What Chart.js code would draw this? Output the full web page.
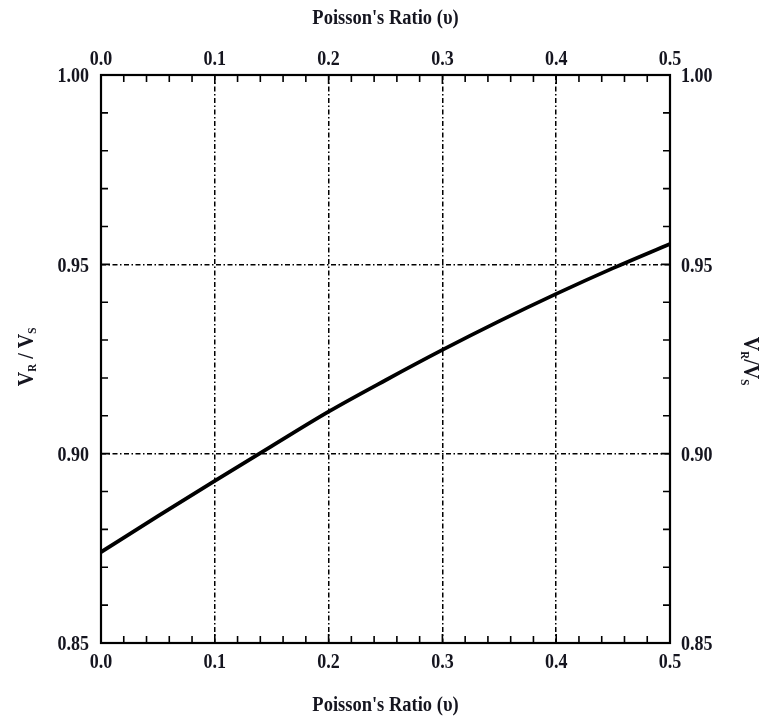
<!DOCTYPE html>
<html>
<head>
<meta charset="utf-8">
<title>Rayleigh / shear wave velocity ratio vs Poisson's ratio</title>
<script src="https://cdn.jsdelivr.net/npm/chart.js@4.4.1/dist/chart.umd.min.js"></script>
<style>
  html, body { margin: 0; padding: 0; background: #ffffff; }
  #wrap { position: relative; width: 764px; height: 719px; }
</style>
</head>
<body>
<div id="wrap"><canvas id="chart" width="764" height="719"></canvas></div>
<script>
// Poisson's ratio (x) and the Rayleigh-to-shear velocity ratio VR/VS (y)
const poissonRatio  = [0.00, 0.05, 0.10, 0.15, 0.20, 0.25, 0.30, 0.35, 0.40, 0.45, 0.50];
const velocityRatio = [0.8740, 0.8835, 0.8928, 0.9020, 0.9111, 0.9194, 0.9274, 0.9350, 0.9422, 0.9490, 0.9554];

// Axis ticks
const xMajorTicks = [0.0, 0.1, 0.2, 0.3, 0.4, 0.5];
const xTickLabels = ['0.0', '0.1', '0.2', '0.3', '0.4', '0.5'];
const yMajorTicks = [0.85, 0.90, 0.95, 1.00];
const yTickLabels = ['0.85', '0.90', '0.95', '1.00'];
const xMinorTicks = [0.02, 0.04, 0.06, 0.08, 0.12, 0.14, 0.16, 0.18, 0.22, 0.24, 0.26, 0.28,
                     0.32, 0.34, 0.36, 0.38, 0.42, 0.44, 0.46, 0.48];
const yMinorTicks = [0.86, 0.87, 0.88, 0.89, 0.91, 0.92, 0.93, 0.94, 0.96, 0.97, 0.98, 0.99];

const xTitle = "Poisson's Ratio (\u03C5)";

const INK = '#15151f';
const SERIF = '"Liberation Serif", "DejaVu Serif", serif';
const TICK_FONT = 'bold 18px ' + SERIF;
const TITLE_FONT = 'bold 18.5px ' + SERIF;
const STRETCH = 1.18; // tall, narrow lettering

// interior grid lines only; the frame is drawn separately
const interiorGrid = (lo, hi) => (ctx) => {
  const v = ctx.tick && ctx.tick.value;
  if (v === undefined) return 'rgba(0,0,0,0)';
  return (v > lo + 1e-9 && v < hi - 1e-9) ? '#000000' : 'rgba(0,0,0,0)';
};

const zeroWidth = (s) => { s.width = 0; };
const zeroHeight = (s) => { s.height = 0; };

// text drawn with a vertical stretch around its own anchor point
function tallText(ctx, str, x, y) {
  ctx.save();
  ctx.translate(x, y);
  ctx.scale(1, STRETCH);
  ctx.fillText(str, 0, 0);
  ctx.restore();
}

// Writes "V_R / V_S" with subscripts along the current x direction
function drawRatioLabel(ctx, spaced) {
  const big = 'bold 20px ' + SERIF;
  const small = 'bold 11px ' + SERIF;
  const parts = [
    { t: 'V', f: big, dy: 0 },
    { t: 'R', f: small, dy: 5 },
    { t: spaced ? ' / ' : '/', f: big, dy: 0 },
    { t: 'V', f: big, dy: 0 },
    { t: 'S', f: small, dy: 5 }
  ];
  let total = 0;
  parts.forEach(p => { ctx.font = p.f; p.w = ctx.measureText(p.t).width; total += p.w; });
  let x = -total / 2;
  ctx.textAlign = 'left';
  ctx.textBaseline = 'middle';
  ctx.scale(1, STRETCH);
  parts.forEach(p => {
    ctx.font = p.f;
    ctx.fillText(p.t, x, p.dy);
    x += p.w;
  });
}

const framePlugin = {
  id: 'frameAndLabels',
  afterDraw(chart) {
    const { ctx, chartArea: a } = chart;
    const xs = chart.scales.x, ys = chart.scales.y;
    ctx.save();

    // minor and major tick marks pointing inward on all four sides
    ctx.strokeStyle = '#000';
    ctx.lineWidth = 1.6;
    const minorLen = 7, majorLen = 9;
    ctx.beginPath();
    xMinorTicks.concat(xMajorTicks).forEach(v => {
      const px = xs.getPixelForValue(v);
      const len = xMajorTicks.includes(v) ? majorLen : minorLen;
      ctx.moveTo(px, a.top); ctx.lineTo(px, a.top + len);
      ctx.moveTo(px, a.bottom); ctx.lineTo(px, a.bottom - len);
    });
    yMinorTicks.concat(yMajorTicks).forEach(v => {
      const py = ys.getPixelForValue(v);
      const len = yMajorTicks.includes(v) ? majorLen : minorLen;
      ctx.moveTo(a.left, py); ctx.lineTo(a.left + len, py);
      ctx.moveTo(a.right, py); ctx.lineTo(a.right - len, py);
    });
    ctx.stroke();

    // plot frame
    ctx.lineWidth = 2.2;
    ctx.strokeRect(a.left, a.top, a.right - a.left, a.bottom - a.top);

    // tick labels
    ctx.fillStyle = INK;
    ctx.font = TICK_FONT;
    ctx.textAlign = 'center';
    ctx.textBaseline = 'middle';
    xMajorTicks.forEach((v, i) => {
      const px = xs.getPixelForValue(v);
      tallText(ctx, xTickLabels[i], px, a.top - 15);
      tallText(ctx, xTickLabels[i], px, a.bottom + 20);
    });
    yMajorTicks.forEach((v, i) => {
      const py = ys.getPixelForValue(v) + 2;
      ctx.textAlign = 'right';
      tallText(ctx, yTickLabels[i], a.left - 12, py);
      ctx.textAlign = 'left';
      tallText(ctx, yTickLabels[i], a.right + 11, py);
    });

    // axis titles
    ctx.font = TITLE_FONT;
    ctx.textAlign = 'center';
    const cx = (a.left + a.right) / 2;
    tallText(ctx, xTitle, cx, 18);
    tallText(ctx, xTitle, cx, 705);

    const cy = (a.top + a.bottom) / 2;
    ctx.save();
    ctx.translate(27, cy - 2);
    ctx.rotate(-Math.PI / 2);
    drawRatioLabel(ctx, true);
    ctx.restore();

    ctx.save();
    ctx.translate(750, cy + 2);
    ctx.rotate(Math.PI / 2);
    drawRatioLabel(ctx, false);
    ctx.restore();

    ctx.restore();
  }
};

new Chart(document.getElementById('chart'), {
  type: 'line',
  data: {
    datasets: [{
      data: poissonRatio.map((x, i) => ({ x, y: velocityRatio[i] })),
      borderColor: '#000000',
      borderWidth: 3.8,
      pointRadius: 0,
      fill: false,
      cubicInterpolationMode: 'monotone'
    }]
  },
  options: {
    responsive: false,
    animation: false,
    devicePixelRatio: 1,
    layout: { padding: { left: 101, right: 94, top: 75, bottom: 76 } },
    plugins: { legend: { display: false }, tooltip: { enabled: false } },
    scales: {
      x: {
        type: 'linear', position: 'bottom', min: 0, max: 0.5,
        afterBuildTicks: (s) => { s.ticks = xMajorTicks.map(v => ({ value: v })); },
        afterFit: zeroHeight,
        ticks: { display: false },
        border: { display: false, dash: [5, 2.5, 1.5, 2.5] },
        grid: { color: interiorGrid(0, 0.5), lineWidth: 1.5, drawTicks: false }
      },
      y: {
        type: 'linear', position: 'left', min: 0.85, max: 1.00,
        afterBuildTicks: (s) => { s.ticks = yMajorTicks.map(v => ({ value: v })); },
        afterFit: zeroWidth,
        ticks: { display: false },
        border: { display: false, dash: [5, 2.5, 1.5, 2.5] },
        grid: { color: interiorGrid(0.85, 1.00), lineWidth: 1.5, drawTicks: false }
      }
    }
  },
  plugins: [framePlugin]
});
</script>
</body>
</html>
